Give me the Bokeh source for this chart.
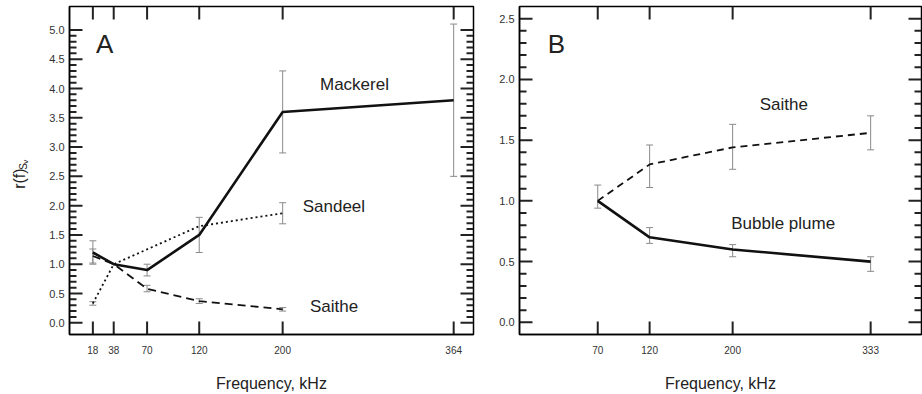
import math
from bokeh.plotting import figure
from bokeh.models import (ColumnDataSource, Whisker, TeeHead, Label, LinearAxis,
                          FixedTicker, PrintfTickFormatter, Range1d)
from bokeh.layouts import row
from bokeh.embed import file_html
from bokeh.resources import INLINE

# ---------------- data ----------------
# Panel A
a_ticks = [18, 38, 70, 120, 200, 364]
mack_freq = [18, 38, 70, 120, 200, 364]
mack_val = [1.20, 1.00, 0.90, 1.50, 3.60, 3.80]
mack_err_freq = [18, 70, 120, 200, 364]
mack_err_lo = [1.00, 0.80, 1.20, 2.90, 2.50]
mack_err_hi = [1.40, 1.00, 1.80, 4.30, 5.10]

sand_freq = [18, 38, 120, 200]
sand_val = [0.33, 1.00, 1.65, 1.87]
sand_err_freq = [18, 200]
sand_err_lo = [0.30, 1.69]
sand_err_hi = [0.36, 2.05]

saia_freq = [18, 38, 70, 120, 200]
saia_val = [1.14, 1.00, 0.58, 0.37, 0.23]
saia_err_freq = [18, 70, 120, 200]
saia_err_lo = [1.02, 0.53, 0.33, 0.20]
saia_err_hi = [1.26, 0.64, 0.41, 0.26]

# Panel B
b_ticks = [70, 120, 200, 333]
saib_freq = [70, 120, 200, 333]
saib_val = [1.00, 1.30, 1.44, 1.56]
saib_err_lo = [0.94, 1.11, 1.26, 1.42]
saib_err_hi = [1.13, 1.46, 1.63, 1.70]

bub_freq = [70, 120, 200, 333]
bub_val = [1.00, 0.70, 0.60, 0.50]
bub_err_freq = [120, 200, 333]
bub_err_lo = [0.65, 0.54, 0.42]
bub_err_hi = [0.78, 0.64, 0.54]

y_major_a = [0, 0.5, 1, 1.5, 2, 2.5, 3, 3.5, 4, 4.5, 5]
y_minor_a = [i / 10 for i in range(0, 51) if i % 5 != 0]
y_major_b = [0, 0.5, 1, 1.5, 2, 2.5]
y_minor_b = [i / 10 for i in range(0, 26) if i % 5 != 0]

FONT = "Liberation Sans"
TXT = "#222222"
ERR = "#8a8a8a"
LINE = "#111111"
TICK = "#222222"
MAJ_PX = 13
MIN_PX = 7
H = 394
BT, BB = 6, 58


def style_axis(ax, ticks, fmt, size, standoff):
    ax.ticker = FixedTicker(ticks=ticks)
    ax.axis_line_color = "black"
    ax.axis_line_width = 1.5
    ax.major_tick_line_color = None
    ax.minor_tick_line_color = None
    ax.major_tick_in = 0
    ax.major_tick_out = 0
    ax.minor_tick_in = 0
    ax.minor_tick_out = 0
    if fmt:
        ax.formatter = PrintfTickFormatter(format=fmt)
    ax.major_label_text_font = FONT
    ax.major_label_text_color = "#333333"
    ax.major_label_text_font_size = size
    ax.major_label_standoff = standoff


def make_fig(width, xr, yr, bl, br, xticks, ymaj, ymin):
    p = figure(width=width, height=H, output_backend="svg", toolbar_location=None,
               x_range=Range1d(*xr), y_range=Range1d(*yr),
               min_border_left=bl, min_border_right=br, min_border_top=BT,
               min_border_bottom=BB, x_axis_location=None, y_axis_location=None)
    p.xgrid.visible = False
    p.ygrid.visible = False
    p.outline_line_color = "black"
    p.outline_line_width = 1.5

    xb = LinearAxis(axis_label="Frequency, kHz")
    style_axis(xb, xticks, None, "10px", 11)
    xb.axis_label_text_font = FONT
    xb.axis_label_text_font_style = "normal"
    xb.axis_label_text_font_size = "16px"
    xb.axis_label_text_color = TXT
    xb.axis_label_standoff = 18
    p.add_layout(xb, "below")

    yl = LinearAxis()
    style_axis(yl, ymaj, "%.1f", "11px", 5)
    p.add_layout(yl, "left")

    # inward tick marks on all four sides, drawn as short segments
    x0, x1 = xr
    y0, y1 = yr
    ux = (x1 - x0) / (width - bl - br)      # data units per pixel (x)
    uy = (y1 - y0) / (H - BT - BB)          # data units per pixel (y)
    n = len(xticks)
    m, k = len(ymaj), len(ymin)
    p.segment(x0=xticks, y0=[y0] * n, x1=xticks, y1=[y0 + MAJ_PX * uy] * n,
              line_color=TICK, line_width=2)
    p.segment(x0=xticks, y0=[y1] * n, x1=xticks, y1=[y1 - MAJ_PX * uy] * n,
              line_color=TICK, line_width=2)
    p.segment(x0=[x0] * m, y0=ymaj, x1=[x0 + MAJ_PX * ux] * m, y1=ymaj,
              line_color=TICK, line_width=2)
    p.segment(x0=[x1] * m, y0=ymaj, x1=[x1 - MAJ_PX * ux] * m, y1=ymaj,
              line_color=TICK, line_width=2)
    p.segment(x0=[x0] * k, y0=ymin, x1=[x0 + MIN_PX * ux] * k, y1=ymin,
              line_color=TICK, line_width=2)
    p.segment(x0=[x1] * k, y0=ymin, x1=[x1 - MIN_PX * ux] * k, y1=ymin,
              line_color=TICK, line_width=2)
    return p


def whisk(p, freq, lo, hi):
    src = ColumnDataSource(dict(x=freq, lo=lo, hi=hi))
    w = Whisker(source=src, base="x", lower="lo", upper="hi",
                line_color=ERR, line_width=1,
                upper_head=TeeHead(size=7, line_color=ERR, line_width=1),
                lower_head=TeeHead(size=7, line_color=ERR, line_width=1))
    p.add_layout(w)


def lab(p, x, y, text, size, **kw):
    l = Label(x=x, y=y, text=text, text_font=FONT, text_font_size=size,
              text_color=TXT, **kw)
    p.add_layout(l)


# ---------------- y-axis title strip ----------------
py = figure(width=30, height=H, output_backend="svg", toolbar_location=None,
            x_range=Range1d(0, 30), y_range=Range1d(0, H),
            min_border_left=0, min_border_right=0, min_border_top=0, min_border_bottom=0,
            x_axis_location=None, y_axis_location=None)
py.xgrid.visible = False
py.ygrid.visible = False
py.outline_line_color = None
lab(py, 19, 175, "r(f)", "16px", angle=math.pi / 2, text_baseline="alphabetic")
lab(py, 22.5, 198, "S", "10px", angle=math.pi / 2, text_baseline="alphabetic")
lab(py, 25, 205, "v", "8px", angle=math.pi / 2, text_baseline="alphabetic")

# ---------------- Panel A ----------------
pa = make_fig(460, (-4.4, 383), (-0.2, 5.4), 39, 17, a_ticks, y_major_a, y_minor_a)
whisk(pa, mack_err_freq, mack_err_lo, mack_err_hi)
whisk(pa, sand_err_freq, sand_err_lo, sand_err_hi)
whisk(pa, saia_err_freq, saia_err_lo, saia_err_hi)
pa.line(sand_freq, sand_val, line_color=LINE, line_width=1.8, line_dash="2 3")
pa.line(saia_freq, saia_val, line_color=LINE, line_width=1.8, line_dash="8 5")
pa.line(mack_freq, mack_val, line_color=LINE, line_width=2.6)

lab(pa, 21, 4.76, "A", "26px", text_baseline="middle")
lab(pa, 235.8, 4.06, "Mackerel", "17px", text_baseline="middle")
lab(pa, 219.2, 1.99, "Sandeel", "17px", text_baseline="middle")
lab(pa, 226.2, 0.28, "Saithe", "17px", text_baseline="middle")

# ---------------- Panel B ----------------
pb = make_fig(432, (-5.4, 382), (-0.1, 2.6), 29, 1, b_ticks, y_major_b, y_minor_b)
whisk(pb, saib_freq, saib_err_lo, saib_err_hi)
whisk(pb, bub_err_freq, bub_err_lo, bub_err_hi)
pb.line(saib_freq, saib_val, line_color=LINE, line_width=1.8, line_dash="7 5")
pb.line(bub_freq, bub_val, line_color=LINE, line_width=2.6)

lab(pb, 21.9, 2.295, "B", "26px", text_baseline="middle")
lab(pb, 226.1, 1.794, "Saithe", "17px", text_baseline="middle")
lab(pb, 198.6, 0.815, "Bubble plume", "17px", text_baseline="middle")

layout = row(py, pa, pb)
open("out.html", "w").write(file_html(layout, INLINE))
